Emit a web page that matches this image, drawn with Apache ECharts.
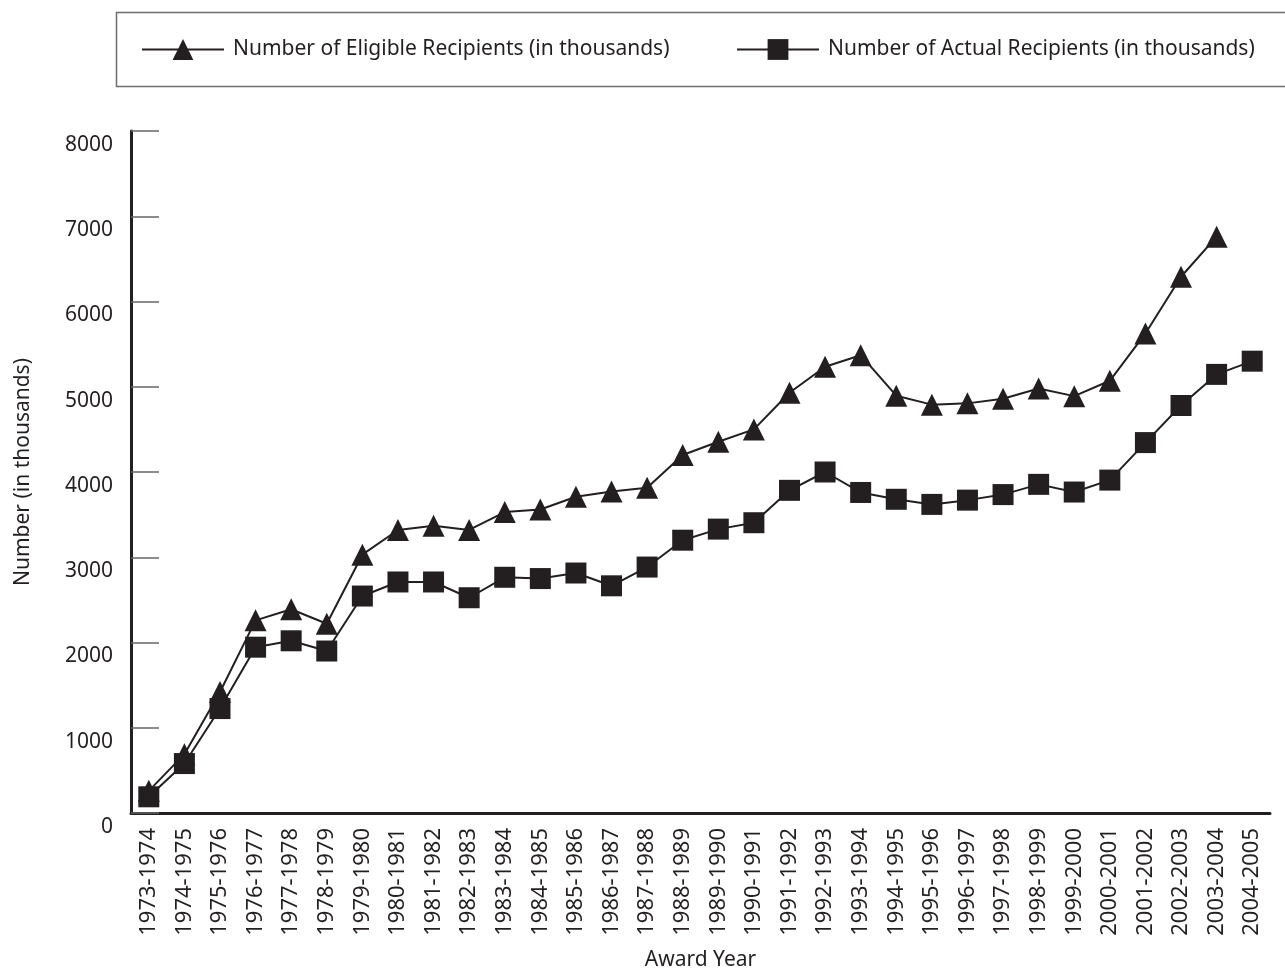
<!DOCTYPE html>
<html>
<head>
<meta charset="utf-8">
<script src="https://cdn.jsdelivr.net/npm/echarts@6/dist/echarts.min.js"></script>
<style>html,body{margin:0;padding:0;background:#fff;}#c{width:1285px;height:973px;}</style>
</head>
<body>
<div id="c"></div>
<script>
const categories = ['1973-1974','1974-1975','1975-1976','1976-1977','1977-1978','1978-1979','1979-1980','1980-1981','1981-1982','1982-1983','1983-1984','1984-1985','1985-1986','1986-1987','1987-1988','1988-1989','1989-1990','1990-1991','1991-1992','1992-1993','1993-1994','1994-1995','1995-1996','1996-1997','1997-1998','1998-1999','1999-2000','2000-2001','2001-2002','2002-2003','2003-2004','2004-2005'];
const eligible = [260,690,1420,2260,2390,2220,3030,3320,3370,3320,3530,3560,3710,3770,3815,4200,4355,4500,4930,5235,5370,4895,4790,4805,4860,4980,4890,5070,5625,6290,6760,null];
const actual = [190,580,1225,1945,2020,1900,2545,2710,2710,2525,2765,2750,2815,2665,2885,3200,3330,3405,3785,4000,3760,3680,3620,3670,3735,3855,3765,3905,4345,4780,5145,5300];
const yTicks = [0,1000,2000,3000,4000,5000,6000,7000,8000];
const seriesNames = ['Number of Eligible Recipients (in thousands)','Number of Actual Recipients (in thousands)'];

const ink = '#231f20';
const font = '"Noto Sans", sans-serif';
const chart = echarts.init(document.getElementById('c'), null, {renderer: 'canvas'});
chart.setOption({
  animation: false,
  backgroundColor: '#fff',
  graphic: [{
    type: 'rect', left: 114, top: 10,
    shape: {width: 1200, height: 74},
    style: {fill: 'none', stroke: '#6d6d6d', lineWidth: 1.5}
  }],
  legend: [
    {data: [seriesNames[0]], left: 136, top: 34, itemWidth: 82, itemHeight: 26, itemGap: 0,
     textStyle: {fontFamily: font, fontSize: 21, color: ink, padding: [0,0,0,4]}},
    {data: [seriesNames[1]], left: 731, top: 34, itemWidth: 82, itemHeight: 26, itemGap: 0,
     textStyle: {fontFamily: font, fontSize: 21, color: ink, padding: [0,0,0,4]}}
  ],
  grid: {left: 131, right: 15, top: 131, bottom: 160, containLabel: false, outerBoundsMode: 'none'},
  xAxis: {
    type: 'category', data: categories, boundaryGap: true,
    name: 'Award Year', nameLocation: 'middle', nameGap: 137,
    nameTextStyle: {fontFamily: font, fontSize: 21, color: ink},
    axisLine: {lineStyle: {color: ink, width: 3}},
    axisTick: {inside: true, length: 16, lineStyle: {color: '#666', width: 1.5}},
    axisLabel: {rotate: 90, margin: 15, fontFamily: font, fontSize: 22, color: ink, interval: 0},
    splitLine: {show: false}
  },
  yAxis: {
    type: 'value', min: 0, max: 8000, interval: 1000,
    name: 'Number (in thousands)', nameLocation: 'middle', nameGap: 97,
    nameTextStyle: {fontFamily: font, fontSize: 21, color: ink},
    axisLine: {show: true, lineStyle: {color: ink, width: 3}},
    axisTick: {show: true, inside: true, length: 28, lineStyle: {color: '#666', width: 1.5}},
    axisLabel: {margin: 18, fontFamily: font, fontSize: 21, color: ink, verticalAlign: 'top', lineHeight: 28,
      formatter: v => yTicks.includes(v) ? String(v) : ''},
    splitLine: {show: false}
  },
  series: [
    {name: seriesNames[0], type: 'line', data: eligible, symbol: 'triangle', symbolSize: 22,
     lineStyle: {color: ink, width: 2}, itemStyle: {color: ink}, connectNulls: false},
    {name: seriesNames[1], type: 'line', data: actual, symbol: 'rect', symbolSize: 21,
     lineStyle: {color: ink, width: 2}, itemStyle: {color: ink}}
  ]
});
</script>
</body>
</html>
